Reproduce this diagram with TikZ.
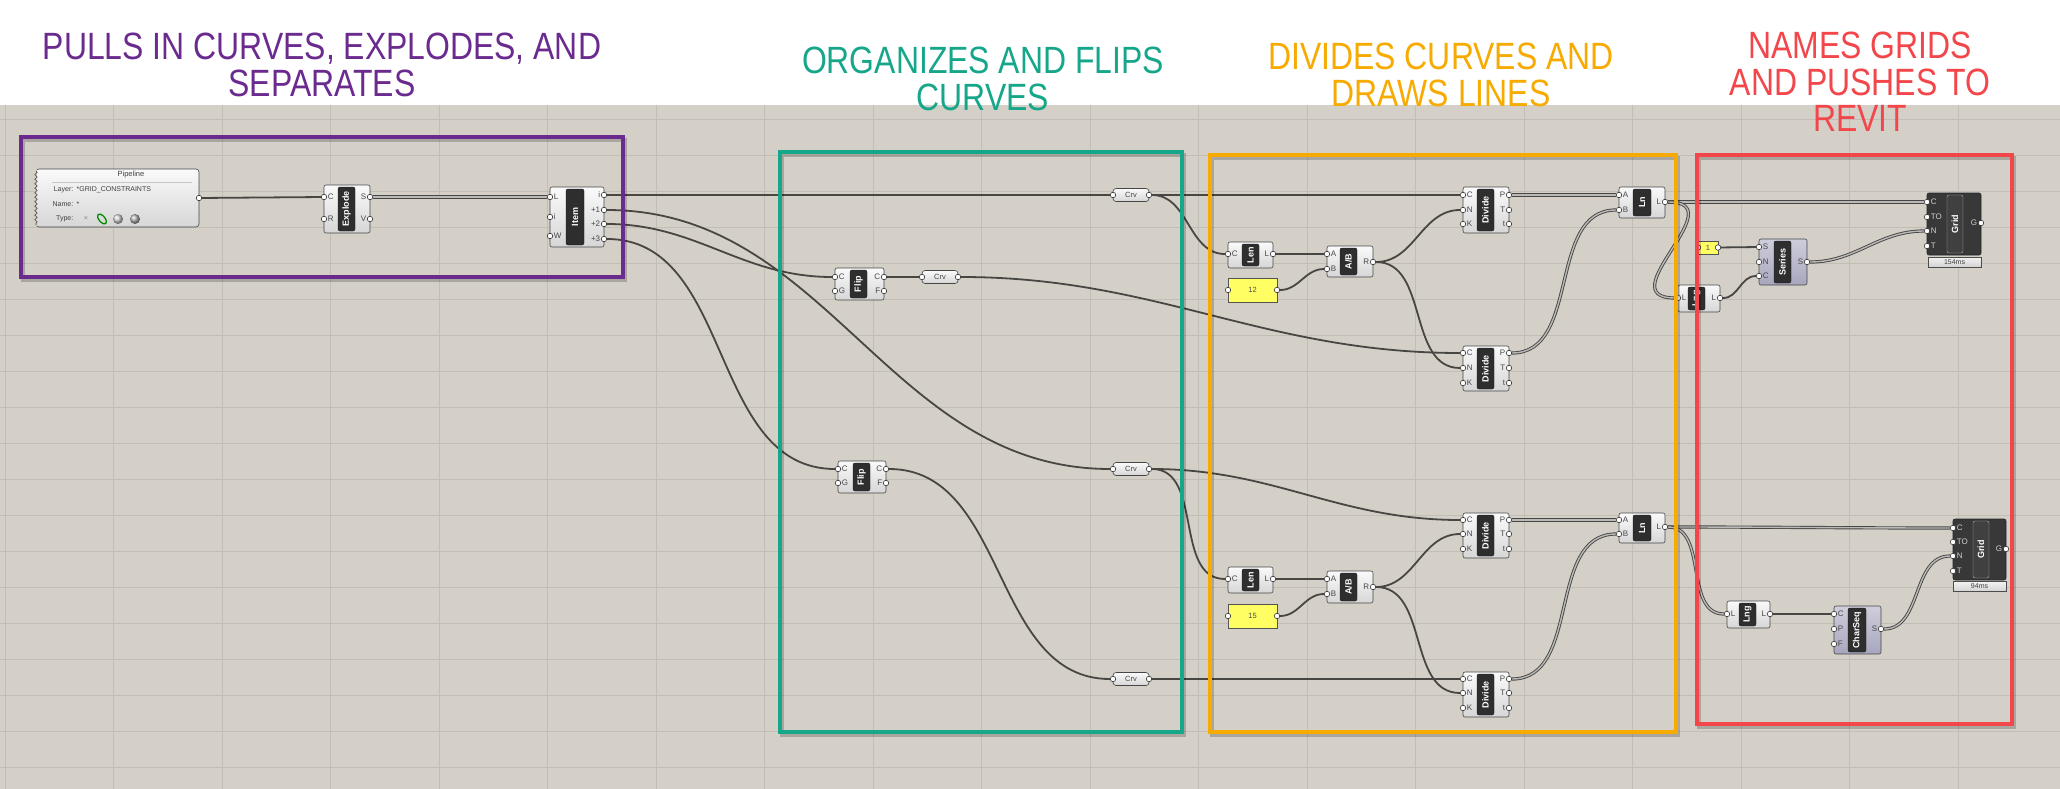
\documentclass[tikz,border=0pt]{standalone}
\usepackage{fontspec}
\setmainfont{Liberation Sans}
\usepackage{graphicx}
\usetikzlibrary{decorations.pathmorphing}
\definecolor{canvas}{RGB}{212,208,200}
\definecolor{gridln}{RGB}{194,190,182}
\definecolor{wire}{RGB}{72,70,67}
\definecolor{mpurple}{RGB}{106,42,142}
\definecolor{mteal}{RGB}{22,166,138}
\definecolor{morange}{RGB}{247,170,0}
\definecolor{mred}{RGB}{243,70,74}
\definecolor{panelyel}{RGB}{255,255,100}
\definecolor{lavender}{RGB}{168,166,190}
\definecolor{griddark}{RGB}{56,56,56}
\pgfdeclarelayer{bg}
\pgfdeclarelayer{wires}
\pgfsetlayers{bg,wires,main}
\tikzset{
  comp/.style={draw=gray!55!black, line width=0.6pt, rounded corners=2pt,
    top color=white!96!gray, bottom color=gray!32, inner sep=0pt, outer sep=0pt},
  comp strip/.style={fill=black!82, draw=black!90, rounded corners=2pt, text=white,
    font=\bfseries\fontsize{9}{10}\selectfont, inner sep=0pt, outer sep=0pt},
  lavcomp/.style={comp, top color=lavender!55!white, bottom color=lavender},
  lavcomp strip/.style={comp strip},
  darkcomp/.style={draw=black!85, line width=0.6pt, rounded corners=2pt, fill=griddark,
    inner sep=0pt, outer sep=0pt},
  darkcomp strip/.style={comp strip, fill=black!75, draw=gray!60},
  port/.style={circle, draw=black!80, fill=white, line width=0.6pt, minimum size=5.5pt,
    inner sep=0pt, label distance=2.2pt},
  plab/.style={font=\fontsize{8}{9}\selectfont, text=black!72, inner sep=0.6pt},
  glab/.style={plab, text=white!82!black},
  wirel/.style={draw=wire, line width=1.8pt},
  listwire/.style={draw=wire, line width=0.9pt, double=gray!55!white, double distance=1.4pt},
  param/.style={comp, rounded corners=3pt, minimum width=36pt, minimum height=13pt,
    font=\fontsize{7.5}{8}\selectfont, text=black!72},
  panel/.style={draw=gray!65!black, fill=panelyel, line width=0.5pt, inner sep=0pt,
    outer sep=0pt, font=\fontsize{7.5}{8}\selectfont, text=black!70},
  timer/.style={draw=gray!60!black, line width=0.5pt, top color=white!90!gray,
    bottom color=gray!35, inner sep=0pt, font=\fontsize{7}{8}\selectfont, text=black!75},
  pipetxt/.style={font=\fontsize{7}{8}\selectfont, text=black!75, inner sep=0.5pt},
  titletxt/.style={font=\fontsize{38}{34}\selectfont, inner sep=0pt},
  frame/.style={line width=4pt},
}
% component body with its dark name strip
\newcommand{\ghcomp}[9]{%
  \node[#9, minimum width={#4-#2}, minimum height={#5-#3}] (#1) at ({(#2+#4)/2},{(#3+#5)/2}) {};
  \node[#9 strip, minimum width={#7-#6}, minimum height={#5-#3-4}] (#1-s) at ({(#6+#7)/2},{(#3+#5)/2}) {\rotatebox{90}{#8}};}
\newcommand{\ghin}[5][plab]{\node[port, label={[#1]right:#5}] (#2) at (#3,#4) {};}
\newcommand{\ghout}[5][plab]{\node[port, label={[#1]left:#5}] (#2) at (#3,#4) {};}
\newcommand{\ghparam}[4]{%
  \node[param] (#1) at (#2+18,#3) {#4};
  \node[port] (#1-in) at (#2,#3) {};
  \node[port] (#1-out) at (#2+36,#3) {};}
\newcommand{\ghpanel}[6]{%
  \node[panel, minimum width={#4-#2}, minimum height={#5-#3}] (#1) at ({(#2+#4)/2},{(#3+#5)/2}) {#6};
  \node[port] (#1-in) at (#2,{(#3+#5)/2}) {};
  \node[port] (#1-out) at (#4,{(#3+#5)/2}) {};}
\newcommand{\grouptitle}[5]{%
  \node[titletxt, text=#4] (#1) at (#2,#3) {\scalebox{0.84}[1]{\begin{tabular}{@{}c@{}}#5\end{tabular}}};}

\begin{document}
\begin{tikzpicture}[x=1pt, y=-1pt]
  \useasboundingbox (0,0) rectangle (2060,789);
  \begin{pgfonlayer}{bg}
    \fill[white] (0,0) rectangle (2060,105);
    \fill[canvas] (0,105) rectangle (2060,789);
    \foreach \k in {0,...,18} {
      \pgfmathsetmacro\gx{5+108.5*\k}
      \draw[gridln, line width=0.8pt] (\gx,105) -- (\gx,789);
      \pgfmathsetmacro\gy{119+36*\k}
      \draw[gridln, line width=0.8pt] (0,\gy) -- (2060,\gy);
    };
  \end{pgfonlayer}

  % pipeline
  \node[comp, rounded corners=3pt, minimum width=163, minimum height=58] (pipe) at (117.5,198) {};
  \fill[canvas] (33.5,170) rectangle (37,226);
  \draw[gray!55!black, line width=0.6pt, decorate, decoration={snake, amplitude=1.2pt, segment length=4.5pt}] (36,171) -- (36,225);
  \node[pipetxt, font=\fontsize{7.5}{8}\selectfont] (pipe-t) at (131,175) {Pipeline};
  \draw[gray!45, line width=0.5pt] (52,182) -- (192,182);
  \node[pipetxt, anchor=east] (pipe-k1) at (74,190) {Layer:};
  \node[pipetxt, anchor=west] (pipe-v1) at (76,190) {*GRID\_CONSTRAINTS};
  \node[pipetxt, anchor=east] (pipe-k2) at (74,204) {Name:};
  \node[pipetxt, anchor=west] (pipe-v2) at (76,204) {*};
  \node[pipetxt, anchor=east] (pipe-k3) at (74,219) {Type:};
  \node[pipetxt, text=gray] (pipe-x) at (86,219) {×};
  \draw[green!55!black, line width=1.3pt, rotate around={40:(102,219)}] (102,219) ellipse (3 and 6);
  \shade[ball color=gray!35] (118,219) circle (5);
  \shade[ball color=gray!60] (135,219) circle (5);
  \node[port] (pipe-out) at (199,198) {};

  \ghcomp{expl}{324}{185}{370}{233}{338}{355}{Explode}{comp}
  \ghin{expl-C}{324}{197}{C} \ghin{expl-R}{324}{219}{R}
  \ghout{expl-S}{370}{197}{S} \ghout{expl-V}{370}{219}{V}

  \ghcomp{item}{550}{187}{604}{247}{566}{584}{Item}{comp}
  \ghin{item-L}{550}{197}{L} \ghin{item-idx}{550}{217}{i} \ghin{item-W}{550}{236}{W}
  \ghout{item-i}{604}{195}{i} \ghout{item-p1}{604}{210}{+1}
  \ghout{item-p2}{604}{224}{+2} \ghout{item-p3}{604}{239}{+3}

  % flips and curve params
  \ghcomp{flip1}{835}{268}{884}{300}{850}{867}{Flip}{comp}
  \ghin{flip1-C}{835}{277}{C} \ghin{flip1-G}{835}{291}{G}
  \ghout{flip1-Co}{884}{277}{C} \ghout{flip1-F}{884}{291}{F}
  \ghcomp{flip2}{838}{461}{886}{493}{853}{870}{Flip}{comp}
  \ghin{flip2-C}{838}{469}{C} \ghin{flip2-G}{838}{483}{G}
  \ghout{flip2-Co}{886}{469}{C} \ghout{flip2-F}{886}{483}{F}
  \ghparam{crv1}{1113}{195}{Crv}
  \ghparam{crv2}{1113}{469}{Crv}
  \ghparam{crv3}{922}{277}{Crv}
  \ghparam{crv4}{1113}{679}{Crv}

  % divide and lines, upper
  \ghcomp{len1}{1228}{242}{1273}{268}{1242}{1259}{Len}{comp}
  \ghin{len1-C}{1228}{254}{C} \ghout{len1-L}{1273}{254}{L}
  \ghpanel{p12}{1228}{278}{1277}{302}{12}
  \ghcomp{ab1}{1327}{246}{1373}{277}{1340}{1357}{A/B}{comp}
  \ghin{ab1-A}{1327}{254}{A} \ghin{ab1-B}{1327}{269}{B} \ghout{ab1-R}{1373}{262}{R}
  \ghcomp{div1}{1463}{187}{1509}{233}{1477}{1494}{Divide}{comp}
  \ghin{div1-C}{1463}{195}{C} \ghin{div1-N}{1463}{210}{N} \ghin{div1-K}{1463}{224}{K}
  \ghout{div1-P}{1509}{195}{P} \ghout{div1-T}{1509}{210}{T} \ghout{div1-t}{1509}{224}{t}
  \ghcomp{div2}{1463}{346}{1509}{391}{1477}{1494}{Divide}{comp}
  \ghin{div2-C}{1463}{353}{C} \ghin{div2-N}{1463}{368}{N} \ghin{div2-K}{1463}{383}{K}
  \ghout{div2-P}{1509}{353}{P} \ghout{div2-T}{1509}{368}{T} \ghout{div2-t}{1509}{383}{t}
  \ghcomp{ln1}{1619}{187}{1665}{218}{1633}{1651}{Ln}{comp}
  \ghin{ln1-A}{1619}{195}{A} \ghin{ln1-B}{1619}{210}{B} \ghout{ln1-L}{1665}{202}{L}

  % divide and lines, lower
  \ghcomp{len2}{1228}{567}{1273}{593}{1242}{1259}{Len}{comp}
  \ghin{len2-C}{1228}{579}{C} \ghout{len2-L}{1273}{579}{L}
  \ghpanel{p15}{1228}{604}{1277}{628}{15}
  \ghcomp{ab2}{1327}{571}{1373}{603}{1340}{1357}{A/B}{comp}
  \ghin{ab2-A}{1327}{579}{A} \ghin{ab2-B}{1327}{594}{B} \ghout{ab2-R}{1373}{587}{R}
  \ghcomp{div3}{1463}{513}{1509}{558}{1477}{1494}{Divide}{comp}
  \ghin{div3-C}{1463}{520}{C} \ghin{div3-N}{1463}{534}{N} \ghin{div3-K}{1463}{549}{K}
  \ghout{div3-P}{1509}{520}{P} \ghout{div3-T}{1509}{534}{T} \ghout{div3-t}{1509}{549}{t}
  \ghcomp{div4}{1463}{672}{1509}{717}{1477}{1494}{Divide}{comp}
  \ghin{div4-C}{1463}{679}{C} \ghin{div4-N}{1463}{693}{N} \ghin{div4-K}{1463}{708}{K}
  \ghout{div4-P}{1509}{679}{P} \ghout{div4-T}{1509}{693}{T} \ghout{div4-t}{1509}{708}{t}
  \ghcomp{ln2}{1619}{513}{1665}{543}{1633}{1651}{Ln}{comp}
  \ghin{ln2-A}{1619}{520}{A} \ghin{ln2-B}{1619}{534}{B} \ghout{ln2-L}{1665}{527}{L}

  % naming and grids
  \ghcomp{lng1}{1678}{285}{1720}{312}{1688}{1705}{Lng}{comp}
  \ghin{lng1-Li}{1678}{298}{L} \ghout{lng1-Lo}{1720}{298}{L}
  \ghpanel{p1}{1698}{241}{1718}{254}{1}
  \ghcomp{ser}{1759}{239}{1807}{285}{1774}{1791}{Series}{lavcomp}
  \ghin{ser-S}{1759}{247}{S} \ghin{ser-N}{1759}{262}{N} \ghin{ser-C}{1759}{276}{C}
  \ghout{ser-So}{1807}{262}{S}
  \ghcomp{grid1}{1927}{193}{1981}{255}{1947}{1963}{Grid}{darkcomp}
  \ghin[glab]{grid1-C}{1927}{202}{C} \ghin[glab]{grid1-TO}{1927}{217}{TO}
  \ghin[glab]{grid1-N}{1927}{231}{N} \ghin[glab]{grid1-T}{1927}{246}{T}
  \ghout[glab]{grid1-G}{1981}{223}{G}
  \node[timer, minimum width=53, minimum height=10] (grid1-time) at (1954.5,262) {154ms};

  \ghcomp{lng2}{1727}{601}{1770}{628}{1739}{1756}{Lng}{comp}
  \ghin{lng2-Li}{1727}{614}{L} \ghout{lng2-Lo}{1770}{614}{L}
  \ghcomp{cs}{1834}{606}{1881}{654}{1848}{1866}{CharSeq}{lavcomp}
  \ghin{cs-C}{1834}{614}{C} \ghin{cs-P}{1834}{629}{P} \ghin{cs-F}{1834}{644}{F}
  \ghout{cs-S}{1881}{629}{S}
  \ghcomp{grid2}{1953}{519}{2006}{580}{1973}{1989}{Grid}{darkcomp}
  \ghin[glab]{grid2-C}{1953}{528}{C} \ghin[glab]{grid2-TO}{1953}{542}{TO}
  \ghin[glab]{grid2-N}{1953}{556}{N} \ghin[glab]{grid2-T}{1953}{571}{T}
  \ghout[glab]{grid2-G}{2006}{549}{G}
  \node[timer, minimum width=53, minimum height=10] (grid2-time) at (1979.5,586.5) {94ms};

  \begin{pgfonlayer}{wires}
    \draw[wirel] (pipe-out) -- (expl-C);
    \draw[listwire] (expl-S) -- (item-L);
    \draw[wirel] (item-i) -- (crv1-in);
    \draw[wirel] (item-p1) to[out=0, in=180] (crv2-in);
    \draw[wirel] (item-p2) to[out=0, in=180] (flip1-C);
    \draw[wirel] (item-p3) to[out=0, in=180] (flip2-C);
    \draw[wirel] (flip1-Co) -- (crv3-in);
    \draw[wirel] (flip2-Co) to[out=0, in=180] (crv4-in);
    \draw[wirel] (crv1-out) -- (div1-C);
    \draw[wirel] (crv1-out) to[out=0, in=180] (len1-C);
    \draw[wirel] (crv3-out) to[out=0, in=180] (div2-C);
    \draw[wirel] (len1-L) -- (ab1-A);
    \draw[wirel] (p12-out) to[out=0, in=180] (ab1-B);
    \draw[wirel] (ab1-R) to[out=0, in=180] (div1-N);
    \draw[wirel] (ab1-R) to[out=0, in=180] (div2-N);
    \draw[listwire] (div1-P) -- (ln1-A);
    \draw[listwire] (div2-P) to[out=0, in=180] (ln1-B);
    \draw[listwire] (ln1-L) -- (grid1-C);
    \draw[listwire] (ln1-L) to[out=0, in=180, looseness=1.8] (lng1-Li);
    \draw[wirel] (p1-out) -- (ser-S);
    \draw[wirel] (lng1-Lo) to[out=0, in=180] (ser-C);
    \draw[listwire] (ser-So) to[out=0, in=180] (grid1-N);
    \draw[wirel] (crv2-out) to[out=0, in=180] (div3-C);
    \draw[wirel] (crv2-out) to[out=0, in=180] (len2-C);
    \draw[wirel] (crv4-out) -- (div4-C);
    \draw[wirel] (len2-L) -- (ab2-A);
    \draw[wirel] (p15-out) to[out=0, in=180] (ab2-B);
    \draw[wirel] (ab2-R) to[out=0, in=180] (div3-N);
    \draw[wirel] (ab2-R) to[out=0, in=180] (div4-N);
    \draw[listwire] (div3-P) -- (ln2-A);
    \draw[listwire] (div4-P) to[out=0, in=180] (ln2-B);
    \draw[listwire] (ln2-L) to[out=0, in=180] (grid2-C);
    \draw[listwire] (ln2-L) to[out=0, in=180] (lng2-Li);
    \draw[wirel] (lng2-Lo) -- (cs-C);
    \draw[listwire] (cs-S) to[out=0, in=180] (grid2-N);
  \end{pgfonlayer}

  % group frames and titles
  \foreach \col/\xa/\ya/\xb/\yb in {mpurple/21/137/623/277, mteal/780/152/1182/732,
      morange/1210/155/1676/732, mred/1697/155/2012/724} {
    \draw[frame, black, opacity=0.2, shift={(2,3)}] (\xa,\ya) rectangle (\xb,\yb);
    \draw[frame, \col] (\xa,\ya) rectangle (\xb,\yb);
  };
  \grouptitle{ttl-pull}{322}{70}{mpurple}{PULLS IN CURVES, EXPLODES, AND\\SEPARATES}
  \grouptitle{ttl-flip}{983}{83.5}{mteal}{ORGANIZES AND FLIPS\\CURVES}
  \grouptitle{ttl-div}{1441}{79.5}{morange}{DIVIDES CURVES AND\\DRAWS LINES}
  \grouptitle{ttl-grid}{1860}{87}{mred}{NAMES GRIDS\\AND PUSHES TO\\REVIT}
\end{tikzpicture}
\end{document}
